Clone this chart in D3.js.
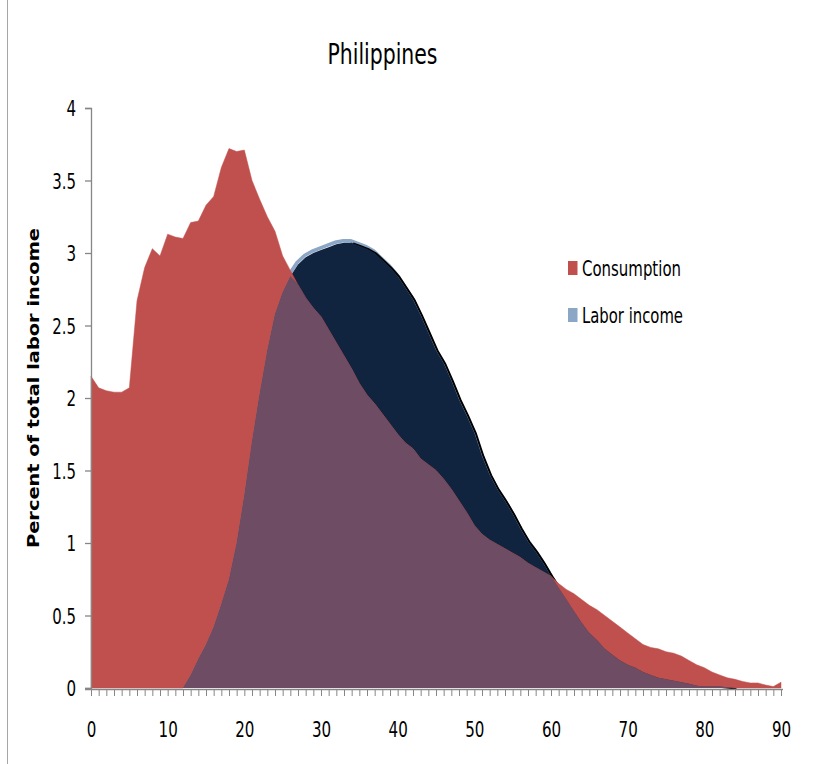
<!DOCTYPE html>
<html>
<head>
<meta charset="utf-8">
<script src="https://cdn.jsdelivr.net/npm/d3@7"></script>
<style>
  html, body { margin: 0; padding: 0; background: #fff; }
  svg { display: block; }
</style>
</head>
<body>
<script>
// ---- Data ----
const chartTitle = "Philippines";
const yAxisTitle = "Percent of total labor income";
const seriesNames = ["Consumption", "Labor income"];
const ages = d3.range(0, 91);
const consumption = [
  2.15, 2.07, 2.05, 2.04, 2.04, 2.07, 2.67, 2.90, 3.03, 2.98,
  3.13, 3.11, 3.10, 3.21, 3.22, 3.33, 3.39, 3.59, 3.72, 3.70,
  3.71, 3.50, 3.37, 3.25, 3.15, 2.98, 2.88, 2.78, 2.69, 2.62,
  2.56, 2.47, 2.38, 2.29, 2.20, 2.10, 2.02, 1.96, 1.89, 1.82,
  1.75, 1.69, 1.65, 1.58, 1.54, 1.50, 1.44, 1.37, 1.29, 1.21,
  1.12, 1.06, 1.02, 0.99, 0.96, 0.93, 0.90, 0.86, 0.83, 0.80,
  0.77, 0.72, 0.68, 0.65, 0.61, 0.57, 0.54, 0.50, 0.46, 0.42,
  0.38, 0.34, 0.30, 0.28, 0.27, 0.25, 0.24, 0.22, 0.19, 0.16,
  0.14, 0.11, 0.09, 0.07, 0.06, 0.045, 0.035, 0.035, 0.02, 0.01,
  0.04
];
const laborIncome = [
  0, 0, 0, 0, 0, 0, 0, 0, 0, 0,
  0, 0, 0, 0.09, 0.20, 0.30, 0.42, 0.58, 0.75, 1.00,
  1.33, 1.70, 2.03, 2.33, 2.58, 2.73, 2.84, 2.92, 2.97, 3.00,
  3.02, 3.04, 3.06, 3.07, 3.07, 3.05, 3.03, 3.00, 2.95, 2.90,
  2.84, 2.76, 2.68, 2.57, 2.45, 2.33, 2.24, 2.12, 1.99, 1.88,
  1.76, 1.60, 1.47, 1.37, 1.29, 1.20, 1.10, 1.01, 0.94, 0.86,
  0.77, 0.69, 0.61, 0.53, 0.45, 0.38, 0.33, 0.27, 0.23, 0.19,
  0.16, 0.14, 0.11, 0.09, 0.07, 0.06, 0.05, 0.04, 0.03, 0.015,
  0.01, 0.01, 0.01, 0.005, 0, 0, 0, 0, 0, 0,
  0
];
const yTicks = [0, 0.5, 1, 1.5, 2, 2.5, 3, 3.5, 4];
const yTickLabels = ["0", "0.5", "1", "1.5", "2", "2.5", "3", "3.5", "4"];
const xTickLabels = [0, 10, 20, 30, 40, 50, 60, 70, 80, 90];

// ---- Layout ----
const W = 816, H = 764;
const narrow = "'Liberation Sans Narrow', 'DejaVu Sans Condensed', 'Arial Narrow', sans-serif";
const red = "#C0504D", navy = "#10243F", purple = "#6E4C64", lightBlue = "#8CA6C5", axisGray = "#868686";
// width of a number label in the tall, narrow face of the reference
const labelWidth = s => s.split("").reduce((w, ch) => w + (ch === "." ? 4.6 : 9.6), 0);

const svg = d3.select("body").append("svg").attr("width", W).attr("height", H);

const x = d3.scaleLinear().domain([0, 90]).range([91, 781]);
const y = d3.scaleLinear().domain([0, 4]).range([688, 108]);

const rows = ages.map((a, i) => ({
  age: a, c: consumption[i], l: laborIncome[i], m: Math.min(consumption[i], laborIncome[i])
}));

// chart border (left edge visible)
svg.append("line").attr("x1", 7.5).attr("x2", 7.5).attr("y1", 0).attr("y2", H)
  .attr("stroke", "#A6A6A6").attr("stroke-width", 1);

// ---- Areas ----
const lineL = d3.line().x(d => x(d.age)).y(d => y(d.l));
const g = svg.append("g");

// bevel strokes of labor income
g.append("path").datum(rows.filter(d => d.age >= 12 && d.age <= 84)).attr("d", lineL)
  .attr("fill", "none").attr("stroke", lightBlue).attr("stroke-width", 3.5)
  .attr("transform", "translate(-1,-2)");
g.append("path").datum(rows.filter(d => d.age >= 34 && d.age <= 84)).attr("d", lineL)
  .attr("fill", "none").attr("stroke", "#000").attr("stroke-width", 2)
  .attr("transform", "translate(1.5,0.5)");

// labor income area (navy)
g.append("path").datum(rows)
  .attr("d", d3.area().x(d => x(d.age)).y0(y(0)).y1(d => y(d.l)))
  .attr("fill", navy);

// consumption part above labor income (red)
g.append("path").datum(rows)
  .attr("d", d3.area().x(d => x(d.age)).y0(d => y(d.m)).y1(d => y(d.c)))
  .attr("fill", red).attr("stroke", red).attr("stroke-width", 0.5);

// overlap (purple)
g.append("path").datum(rows)
  .attr("d", d3.area().x(d => x(d.age)).y0(y(0)).y1(d => y(d.m)))
  .attr("fill", purple);

// ---- Axes ----
const yAxis = d3.axisLeft(y).tickValues(yTicks)
  .tickFormat((d, i) => yTickLabels[i]).tickSize(6).tickPadding(15);
const ya = svg.append("g").attr("transform", "translate(91,0)").call(yAxis);
ya.select(".domain").attr("stroke", axisGray).attr("stroke-width", 1.3);
ya.selectAll(".tick line").attr("stroke", axisGray).attr("stroke-width", 1.3);
ya.selectAll(".tick text").attr("font-family", narrow).attr("font-size", 22).attr("fill", "#000")
  .attr("x", -15).attr("dy", "0.36em")
  .attr("textLength", (d, i) => labelWidth(yTickLabels[i])).attr("lengthAdjust", "spacingAndGlyphs");

const xMinor = d3.axisBottom(x).tickValues(ages).tickFormat("").tickSize(7).tickSizeOuter(0);
const xa = svg.append("g").attr("transform", "translate(0,689)").call(xMinor);
xa.select(".domain").attr("stroke", axisGray).attr("stroke-width", 1.5).attr("d", "M85,0.5H783");
xa.selectAll(".tick line").attr("stroke", axisGray).attr("stroke-width", 1);

const xLab = d3.axisBottom(x).tickValues(xTickLabels).tickFormat(d3.format("d")).tickSize(0);
const xl = svg.append("g").attr("transform", "translate(0,689)").call(xLab);
xl.select(".domain").remove();
xl.selectAll(".tick text").attr("font-family", narrow).attr("font-size", 22).attr("fill", "#000")
  .attr("y", 48).attr("dy", 0)
  .attr("textLength", d => labelWidth(String(d))).attr("lengthAdjust", "spacingAndGlyphs");

// ---- Title ----
svg.append("text").attr("x", 382.5).attr("y", 64).attr("text-anchor", "middle")
  .attr("font-family", narrow).attr("font-size", 28).attr("fill", "#000")
  .attr("textLength", 110).attr("lengthAdjust", "spacingAndGlyphs")
  .text(chartTitle);

// ---- Y title ----
svg.append("text").attr("transform", "translate(39,388) rotate(-90)")
  .attr("text-anchor", "middle").attr("font-family", "'DejaVu Sans', Verdana, sans-serif")
  .attr("font-weight", "bold").attr("font-size", 15.5).attr("fill", "#000")
  .attr("textLength", 320).attr("lengthAdjust", "spacingAndGlyphs")
  .text(yAxisTitle);

// ---- Legend ----
const legendColors = [red, lightBlue];
const legendY = [261, 308];
const leg = svg.append("g");
seriesNames.forEach((name, i) => {
  leg.append("rect").attr("x", 568).attr("y", legendY[i]).attr("width", 9.5).attr("height", 14)
    .attr("fill", legendColors[i]);
  leg.append("text").attr("x", 582).attr("y", legendY[i] + 15)
    .attr("font-family", narrow).attr("font-size", 21).attr("fill", "#000")
    .attr("textLength", i === 0 ? 99 : 101).attr("lengthAdjust", "spacingAndGlyphs")
    .text(name);
});
</script>
</body>
</html>
